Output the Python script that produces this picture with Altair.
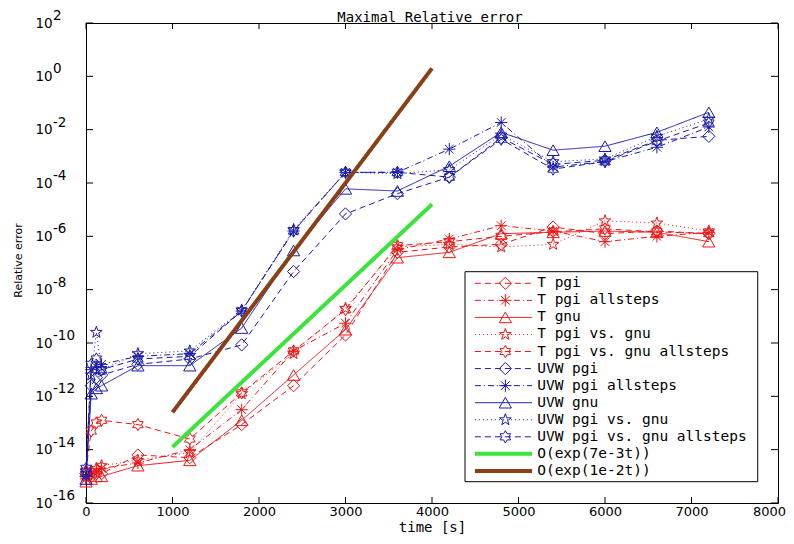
import math
import altair as alt
import pandas as pd

# ---------------- data ----------------
TITLE = "Maximal Relative error"
TIME = [0, 60, 120, 180, 600, 1200, 1800, 2400, 3000, 3600, 4200, 4800, 5400, 6000, 6600, 7200]

# log10 of the maximal relative error
T_PGI = [-15.0, -15.0, -14.9, -14.9, -14.2, -14.3, -13.06, -11.6, -9.7, -6.6, -6.4, -6.3, -5.65, -5.9, -5.8, -5.9]
T_PGI_ALL = [-15.1, -14.9, -14.8, -14.7, -14.5, -14.0, -12.5, -10.3, -9.26, -6.5, -6.1, -5.6, -5.8, -6.2, -6.0, -5.85]
T_GNU = [-15.2, -15.1, -15.0, -15.0, -14.6, -14.4, -12.9, -11.2, -9.5, -6.8, -6.6, -5.9, -5.85, -5.8, -5.85, -6.2]
T_VS = [-14.9, -14.8, -14.7, -14.6, -14.4, -14.1, -11.9, -10.4, -8.7, -6.4, -6.3, -6.4, -6.3, -5.42, -5.5, -5.8]
T_VS_ALL = [-14.8, -13.3, -13.0, -12.9, -13.06, -13.6, -11.87, -10.3, -8.75, -6.35, -6.2, -6.0, -5.83, -5.72, -5.83, -5.9]

UVW_PGI = [-14.9, -11.6, -11.3, -11.2, -10.8, -10.6, -10.07, -7.32, -5.16, -4.4, -3.78, -2.3, -3.3, -3.15, -2.4, -2.25]
UVW_PGI_ALL = [-15.0, -11.0, -10.9, -10.8, -10.5, -10.4, -8.8, -5.8, -3.6, -3.6, -2.73, -1.73, -3.4, -3.2, -2.66, -1.9]
UVW_GNU = [-15.1, -11.9, -11.7, -11.6, -10.85, -10.85, -9.44, -6.53, -4.22, -4.3, -3.37, -2.1, -2.77, -2.62, -2.1, -1.35]
UVW_VS = [-14.8, -11.2, -9.6, -11.0, -10.4, -10.3, -8.77, -5.75, -3.6, -3.65, -3.5, -2.2, -3.2, -3.1, -2.25, -1.6]
UVW_VS_ALL = [-14.7, -10.8, -10.6, -11.0, -10.6, -10.5, -8.8, -5.8, -3.6, -3.6, -3.78, -2.36, -3.48, -3.2, -2.43, -1.75]

REF_TIME = [1000, 4000]
REF_7E3 = [-13.9, -4.8]
REF_1E2 = [-12.6, 0.3]

NAMES = ["T pgi", "T pgi allsteps", "T gnu", "T pgi vs. gnu", "T pgi vs. gnu allsteps",
         "UVW pgi", "UVW pgi allsteps", "UVW gnu", "UVW pgi vs. gnu", "UVW pgi vs. gnu allsteps",
         "O(exp(7e-3t))", "O(exp(1e-2t))"]
SERIES = [T_PGI, T_PGI_ALL, T_GNU, T_VS, T_VS_ALL, UVW_PGI, UVW_PGI_ALL, UVW_GNU, UVW_VS, UVW_VS_ALL]
REFS = [REF_7E3, REF_1E2]

Y_EXPONENTS = [2, 0, -2, -4, -6, -8, -10, -12, -14, -16]
X_TICKS = [0, 1000, 2000, 3000, 4000, 5000, 6000, 7000, 8000]

# ---------------- styles ----------------
W, H = 692, 480
RED, BLUE, GREEN, BROWN = "#ee1616", "#1a1aaa", "#3ce33c", "#8b3f16"
COLORS = [RED] * 5 + [BLUE] * 5 + [GREEN, BROWN]
DASHES = [[6, 4], [6, 3, 1, 3], [1, 0], [1, 3], [6, 4]] * 2 + [[1, 0], [1, 0]]


def star_path(n, inner):
    pts = []
    for k in range(2 * n):
        a = math.radians(-90 + 180.0 / n * k)
        r = 1.0 if k % 2 == 0 else inner
        pts.append(f"{r * math.cos(a):.3f},{r * math.sin(a):.3f}")
    return "M" + "L".join(pts) + "Z"


ASTERISK = "M-1,0L1,0M0,-1L0,1M-0.7,-0.7L0.7,0.7M-0.7,0.7L0.7,-0.7"
PENTAGRAM = star_path(5, 0.40)
HEXAGRAM = star_path(6, 0.58)
SHAPES = ["diamond", ASTERISK, "triangle-up", PENTAGRAM, HEXAGRAM] * 2

MONO = "DejaVu Sans Mono"
SANS = "DejaVu Sans"

# ---------------- tables ----------------
rows = []
for name, vals in zip(NAMES[:10], SERIES):
    for t, lg in zip(TIME, vals):
        rows.append({"series": name, "t": t, "v": 10.0 ** lg})
df = pd.DataFrame(rows)

rrows = []
for name, vals in zip(NAMES[10:], REFS):
    for t, lg in zip(REF_TIME, vals):
        rrows.append({"series": name, "t": t, "v": 10.0 ** lg})
dfr = pd.DataFrame(rrows)

ytick_df = pd.DataFrame({"v": [10.0 ** e for e in Y_EXPONENTS], "lab": [str(e) for e in Y_EXPONENTS]})
xtick_df = pd.DataFrame({"t": X_TICKS})
leg_df = pd.DataFrame({"series": NAMES, "row": list(range(len(NAMES)))})
title_df = pd.DataFrame({"title": [TITLE]})

COLOR = alt.Color("series:N", scale=alt.Scale(domain=NAMES, range=COLORS), legend=None)
DASH = alt.StrokeDash("series:N", scale=alt.Scale(domain=NAMES, range=DASHES), legend=None)
SHAPE = alt.Shape("series:N", scale=alt.Scale(domain=NAMES[:10], range=SHAPES), legend=None)

X_ENC = alt.X("t:Q", scale=alt.Scale(domain=[0, 8000], nice=False, zero=False),
              axis=alt.Axis(values=X_TICKS, format="d", labelFlush=False, ticks=False, domain=False,
                            grid=False, labelPadding=2, labelFont=SANS, labelFontSize=13,
                            labelOffset={"condition": {"test": "datum.value == 8000", "value": -9}, "value": 0},
                            labelColor="black", title="time [s]", titleFont=MONO, titleFontSize=14,
                            titleFontWeight="normal", titleColor="black", titlePadding=2))
Y_ENC = alt.Y("v:Q", scale=alt.Scale(type="log", domain=[1e-16, 1e2], nice=False),
              axis=alt.Axis(values=[10.0 ** e for e in Y_EXPONENTS], labelExpr="'10'", labelAlign="left",
                            labelBaseline="middle", labelPadding=51, ticks=False, domain=False, grid=False,
                            labelFont=SANS, labelFontSize=13.5, labelColor="black", labelFlush=False,
                            title="Relative error", titleFont=SANS, titleFontSize=11,
                            titleFontWeight="normal", titleColor="black", titleX=-68, titleY=237,
                            titleAngle=270, titleAlign="center", titleBaseline="middle"))

lines = alt.Chart(df).mark_line(strokeWidth=1).encode(x=X_ENC, y=Y_ENC, color=COLOR, strokeDash=DASH)
points = alt.Chart(df).mark_point(filled=False, size=150, strokeWidth=1, opacity=1).encode(
    x=X_ENC, y=Y_ENC, color=COLOR, shape=SHAPE)
refs = alt.Chart(dfr).mark_line(strokeWidth=4).encode(x=X_ENC, y=Y_ENC, color=COLOR, strokeDash=DASH)

tick_l = alt.Chart(ytick_df).mark_rule(color="black").encode(y=Y_ENC, x=alt.value(0), x2=alt.value(7))
tick_r = alt.Chart(ytick_df).mark_rule(color="black").encode(y=Y_ENC, x=alt.value(W - 7), x2=alt.value(W))
tick_b = alt.Chart(xtick_df).mark_rule(color="black").encode(x=X_ENC, y=alt.value(H - 6), y2=alt.value(H))
tick_t = alt.Chart(xtick_df).mark_rule(color="black").encode(x=X_ENC, y=alt.value(0), y2=alt.value(6))
expo = alt.Chart(ytick_df).mark_text(align="left", baseline="middle", dy=-7, font=SANS,
                                      fontSize=13.5, color="black").encode(
    y=Y_ENC, x=alt.value(-33), text="lab:N")
title_txt = alt.Chart(title_df).mark_text(align="center", baseline="alphabetic", font=MONO,
                                          fontSize=14, color="black").encode(
    x=alt.value(W / 2 - 2), y=alt.value(-1.5), text="title:N")

main = alt.layer(lines, points, refs, tick_l, tick_r, tick_b, tick_t, expo, title_txt)

# ---------------- legend (inside plot) ----------------
LX = alt.Scale(domain=[0, 1], nice=False, zero=False)
LY = alt.Scale(domain=[-15.26, 12.88], reverse=True, nice=False, zero=False)
ROW = alt.Y("row:Q", scale=LY, axis=None)

box = alt.Chart(pd.DataFrame({"k": [0]})).mark_rect(fill="white", stroke="black", strokeWidth=1).encode(
    x=alt.XDatum(0.5477, scale=LX, axis=None), x2=alt.X2Datum(0.9707),
    y=alt.YDatum(-0.68, scale=LY, axis=None), y2=alt.Y2Datum(11.63))
leg_lines = alt.Chart(leg_df).mark_rule().encode(
    x=alt.XDatum(0.562, scale=LX, axis=None), x2=alt.X2Datum(0.6445), y=ROW,
    color=COLOR, strokeDash=DASH,
    strokeWidth=alt.condition("datum.row >= 10", alt.value(4), alt.value(1)))
leg_pts = alt.Chart(leg_df).transform_filter("datum.row < 10").mark_point(
    filled=False, size=150, strokeWidth=1, opacity=1).encode(
    x=alt.XDatum(0.606, scale=LX, axis=None), y=ROW, color=COLOR, shape=SHAPE)
leg_txt = alt.Chart(leg_df).mark_text(align="left", baseline="middle", font=MONO, fontSize=14.5,
                                      color="black").encode(
    x=alt.XDatum(0.652, scale=LX, axis=None), y=ROW, text="series:N")

legend = alt.layer(box, leg_lines, leg_pts, leg_txt)

chart = alt.layer(main, legend).resolve_scale(x="independent", y="independent").properties(
    width=W, height=H,
    autosize=alt.AutoSizeParams(type="none"),
    padding={"left": 78, "top": 15, "right": 8, "bottom": 33},
    background="white",
).configure_view(stroke="black", strokeWidth=1)

chart.save("out.html", embed_options={"renderer": "svg", "actions": False})
